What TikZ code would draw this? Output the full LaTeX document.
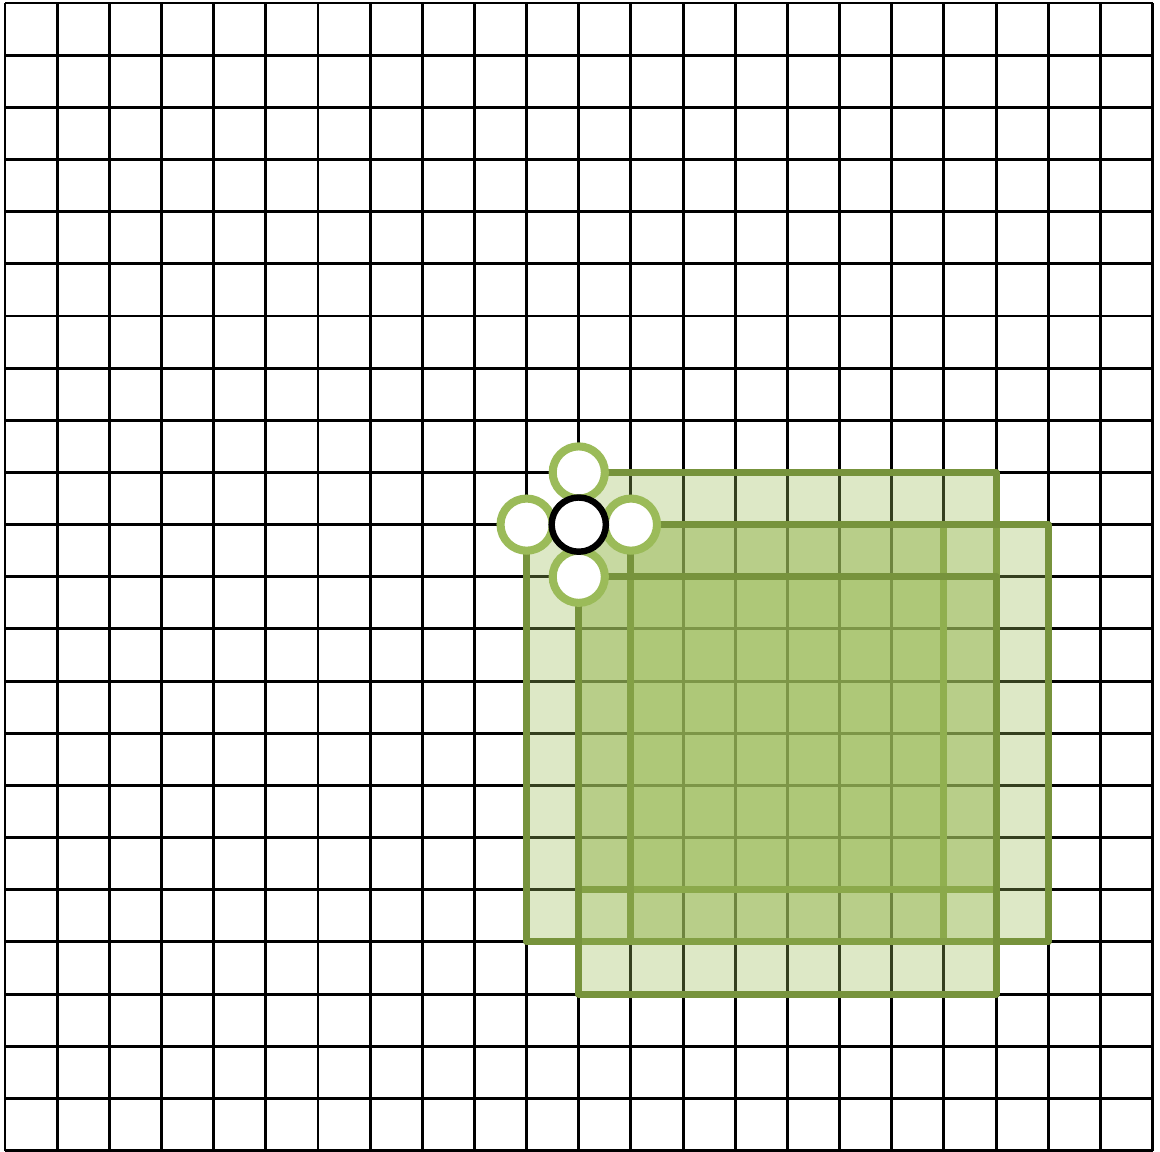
\documentclass[tikz,border=0pt]{standalone}
\usetikzlibrary{positioning}

\definecolor{leafgreen}{HTML}{9BBB59}
\definecolor{olivegreen}{HTML}{77933C}

\tikzset{
  gridline/.style={black, line width=1.6pt},
  window/.style={draw=olivegreen, fill=leafgreen, fill opacity=0.34, line width=3.8pt, line join=round},
  greenring/.style={circle, draw=leafgreen, fill=white, line width=4.4pt, minimum size=1cm, inner sep=0pt},
  blackring/.style={circle, draw=black, fill=white, line width=3.5pt, minimum size=1.04cm, inner sep=0pt}
}

\begin{document}
\begin{tikzpicture}[scale=1]
\useasboundingbox (-0.096,-0.009) rectangle (22.143,22.058);

% Draw grid
\draw[gridline] (0,0) grid (22,22);

% Shifted windows
\draw[window] (10,12) rectangle ++(8,-8);
\draw[window] (11,13) rectangle ++(8,-8);
\draw[window] (12,12) rectangle ++(8,-8);
\draw[window] (11,11) rectangle ++(8,-8);

% Neighbour points
\node[greenring] (up) at (11,13) {};
\node[greenring] (left) at (10,12) {};
\node[greenring] (right) at (12,12) {};
\node[greenring] (down) at (11,11) {};

% Centre point
\node[blackring] (centre) at (11,12) {};

\end{tikzpicture}
\end{document}
